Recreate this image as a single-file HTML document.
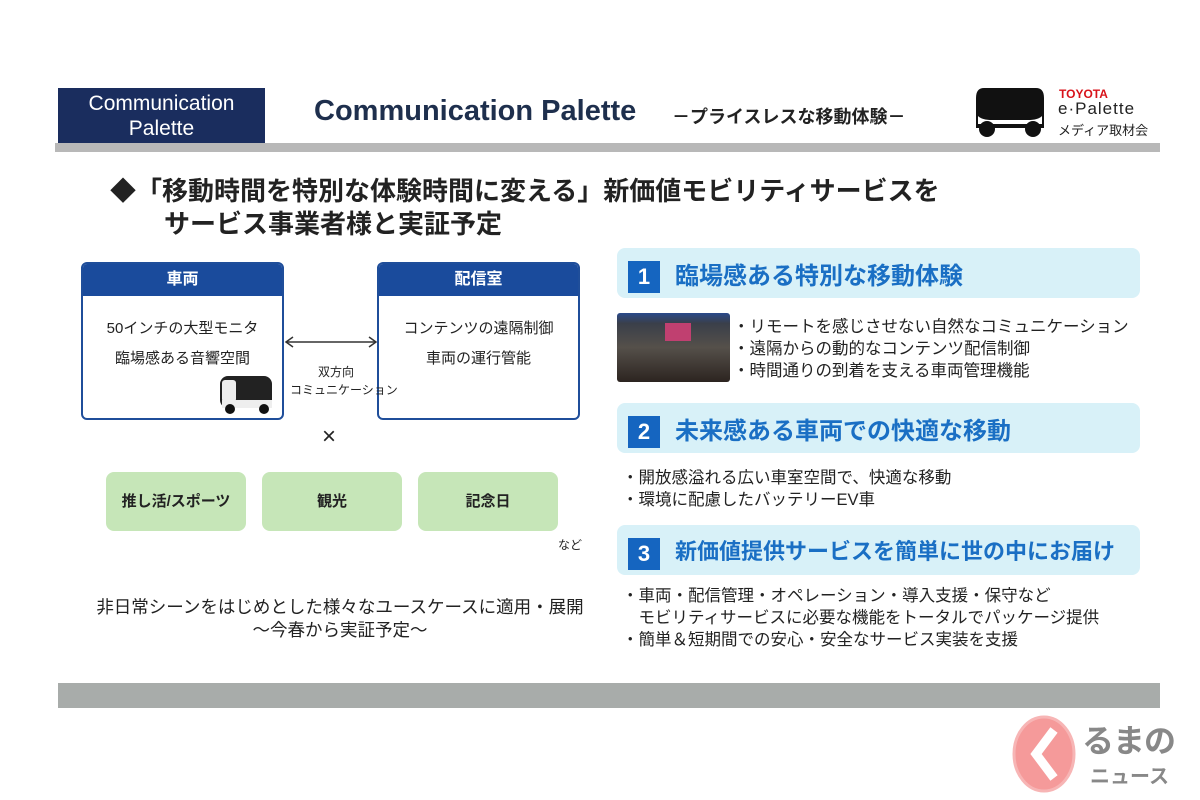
<!DOCTYPE html>
<html><head><meta charset="utf-8"><style>
*{margin:0;padding:0;box-sizing:border-box}
body{width:1200px;height:800px;background:#fff;position:relative;overflow:hidden;font-family:"Liberation Sans","Noto Sans CJK JP",sans-serif;color:#222}
.a{position:absolute;white-space:nowrap}
.band{position:absolute;left:617px;width:523px;height:50px;background:#d8f1f8;border-radius:8px}
.num{position:absolute;left:11px;top:13px;width:32px;height:32px;background:#1565c0;color:#fff;font-weight:bold;font-size:22px;text-align:center;line-height:32px}
.bt{position:absolute;left:58px;top:8px;font-size:24px;font-weight:bold;color:#1a6fc4;white-space:nowrap}
.li{position:absolute;font-size:16.5px;color:#222;white-space:nowrap}
.box{position:absolute;top:262px;width:203px;height:158px;border:2px solid #1f4e9a;border-radius:6px;background:#fff;overflow:hidden}
.box .h{height:32px;background:#1a4b9c;color:#fff;font-weight:bold;font-size:16px;text-align:center;line-height:32px}
.box .t{text-align:center;font-size:15px;margin-top:18px;line-height:30px}
.g{position:absolute;top:472px;width:140px;height:59px;background:#c6e6b8;border-radius:8px;font-weight:bold;font-size:15px;text-align:center;line-height:59px}
</style></head><body>
<div class="a" style="left:58px;top:88px;width:207px;height:55px;background:#1a2d5e;color:#fff;font-size:21px;text-align:center;line-height:25px;padding-top:3px">Communication<br>Palette</div>
<div class="a" style="left:55px;top:143px;width:1105px;height:9px;background:#b8b8b8"></div>
<div class="a" style="left:314px;top:95px;font-size:29px;font-weight:bold;color:#1e2f4d">Communication Palette</div>
<div class="a" style="left:672px;top:103px;font-size:18px;font-weight:bold;color:#222">－プライスレスな移動体験－</div>
<svg class="a" style="left:972px;top:86px" width="76" height="54" viewBox="0 0 76 54">
<path d="M12 2 H64 Q72 2 72 12 V42 H4 V12 Q4 2 12 2Z" fill="#111"/>
<path d="M6 30 Q10 34 20 34 H56 Q66 34 70 30 V38 H6Z" fill="#fff"/>
<circle cx="15" cy="43" r="8" fill="#111"/><circle cx="61" cy="43" r="8" fill="#111"/></svg>
<div class="a" style="left:1059px;top:87px;font-size:12px;font-weight:bold;color:#d8121a">TOYOTA</div>
<div class="a" style="left:1058px;top:99px;font-size:17px;color:#222;letter-spacing:1px">e·Palette</div>
<div class="a" style="left:1058px;top:120px;font-size:13px;color:#222">メディア取材会</div>
<div class="a" style="left:110px;top:171px;font-size:26px;font-weight:bold;color:#222">◆「移動時間を特別な体験時間に変える」新価値モビリティサービスを</div>
<div class="a" style="left:164px;top:204px;font-size:26px;font-weight:bold;color:#222">サービス事業者様と実証予定</div>

<div class="box" style="left:81px"><div class="h">車両</div><div class="t">50インチの大型モニタ<br>臨場感ある音響空間</div>
<svg style="position:absolute;left:135px;top:108px" width="56" height="44"><rect x="2" y="4" width="52" height="32" rx="8" fill="#222"/><rect x="4" y="8" width="14" height="22" rx="3" fill="#eee"/><rect x="4" y="28" width="50" height="8" fill="#eee"/><circle cx="12" cy="37" r="5" fill="#111"/><circle cx="46" cy="37" r="5" fill="#111"/></svg></div>
<div class="box" style="left:377px"><div class="h">配信室</div><div class="t">コンテンツの遠隔制御<br>車両の運行管能</div></div>
<svg class="a" style="left:284px;top:335px" width="94" height="14"><line x1="3" y1="7" x2="91" y2="7" stroke="#333" stroke-width="1.5"/><path d="M9 2 L2 7 L9 12 M85 2 L92 7 L85 12" fill="none" stroke="#333" stroke-width="1.5"/></svg>
<div class="a" style="left:290px;top:363px;width:92px;text-align:center;font-size:12px;line-height:18px">双方向<br>コミュニケーション</div>
<div class="a" style="left:322px;top:423px;font-size:24px">×</div>
<div class="g" style="left:106px">推し活/スポーツ</div>
<div class="g" style="left:262px">観光</div>
<div class="g" style="left:418px">記念日</div>
<div class="a" style="left:558px;top:536px;font-size:12px">など</div>
<div class="a" style="left:40px;top:596px;width:600px;text-align:center;font-size:17.5px;line-height:23px">非日常シーンをはじめとした様々なユースケースに適用・展開<br>～今春から実証予定～</div>

<div class="band" style="top:248px"><div class="num">1</div><div class="bt">臨場感ある特別な移動体験</div></div>
<div class="a" style="left:617px;top:313px;width:113px;height:69px;background:linear-gradient(#2a4a8a 0,#3a3f4a 15%,#55504a 50%,#2c2420 100%);border-radius:3px"><div style="position:absolute;left:48px;top:10px;width:26px;height:18px;background:#c04070"></div></div>
<div class="li" style="left:733px;top:313px">・リモートを感じさせない自然なコミュニケーション</div>
<div class="li" style="left:733px;top:335px">・遠隔からの動的なコンテンツ配信制御</div>
<div class="li" style="left:733px;top:357px">・時間通りの到着を支える車両管理機能</div>
<div class="band" style="top:403px"><div class="num">2</div><div class="bt">未来感ある車両での快適な移動</div></div>
<div class="li" style="left:622px;top:464px">・開放感溢れる広い車室空間で、快適な移動</div>
<div class="li" style="left:622px;top:486px">・環境に配慮したバッテリーEV車</div>
<div class="band" style="top:525px"><div class="num">3</div><div class="bt" style="font-size:22px;top:9px">新価値提供サービスを簡単に世の中にお届け</div></div>
<div class="li" style="left:622px;top:582px">・車両・配信管理・オペレーション・導入支援・保守など</div>
<div class="li" style="left:622px;top:604px">&#12288;モビリティサービスに必要な機能をトータルでパッケージ提供</div>
<div class="li" style="left:622px;top:626px">・簡単＆短期間での安心・安全なサービス実装を支援</div>

<div class="a" style="left:58px;top:683px;width:1102px;height:25px;background:#a8acaa"></div>
<svg class="a" style="left:1010px;top:712px" width="70" height="84"><ellipse cx="34" cy="42" rx="30" ry="37" fill="#f59a9a" stroke="#f7b5b5" stroke-width="3"/><path d="M44 18 L26 42 L44 66" fill="none" stroke="#fff" stroke-width="9"/></svg>
<div class="a" style="left:1082px;top:716px;font-size:32px;font-weight:bold;color:#888;letter-spacing:-1px">るまの</div>
<div class="a" style="left:1090px;top:760px;font-size:20px;font-weight:bold;color:#888">ニュース</div>
</body></html>
